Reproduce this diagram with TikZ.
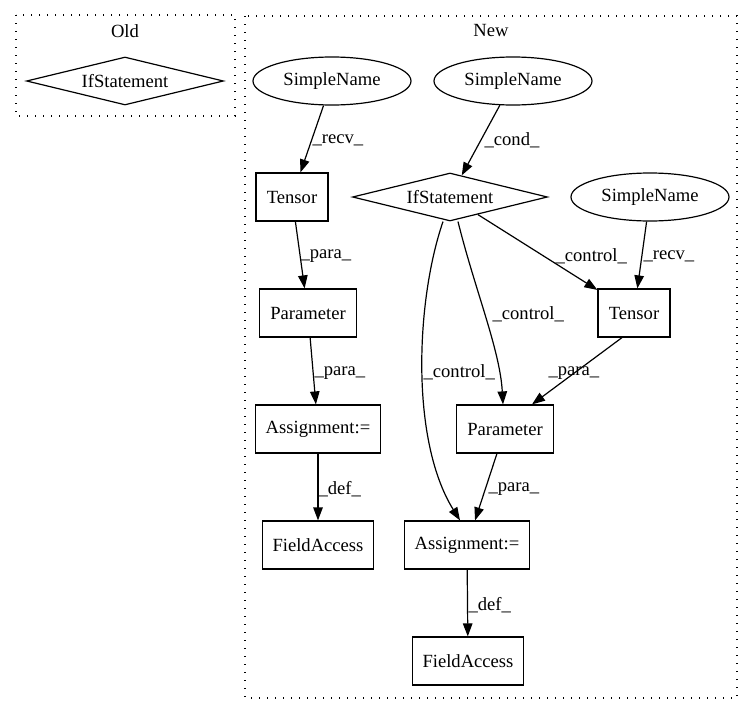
\documentclass[tikz,border=0pt]{standalone}
\usepackage{fontspec}
\setmainfont{Liberation Serif}
\usetikzlibrary{shapes.geometric,arrows.meta}
\begin{document}
\begin{tikzpicture}[x=1pt,y=-1pt,
  font=\fontsize{18.6}{22}\selectfont,
  box/.style={draw,rectangle,minimum height=48pt,inner sep=0pt,line width=1.2pt},
  ell/.style={draw,ellipse,minimum width=158pt,minimum height=48pt,inner sep=0pt,line width=1.2pt},
  dia/.style={draw,diamond,aspect=4,inner sep=0pt,line width=1.2pt},
  cl/.style={draw,line width=1.3pt,dash pattern=on 1.4pt off 6.6pt},
  edge/.style={-{Triangle[length=13pt,width=9.5pt]},line width=1.2pt},
  lbl/.style={inner sep=0pt,anchor=west}
]
\useasboundingbox (0,0) rectangle (753,712);
% clusters
\draw[cl] (16,15) rectangle (235,116);
\node (oldlbl) at (125,31) {Old};
\draw[cl] (245,16) rectangle (737,698);
\node (newlbl) at (491,31) {New};
% old
\node[dia,minimum width=197pt,minimum height=48pt] (oif) at (125,81) {IfStatement};
% new nodes
\node[ell] (sn1) at (332,81) {SimpleName};
\node[ell] (sn2) at (513,81) {SimpleName};
\node[ell] (sn3) at (650,197) {SimpleName};
\node[dia,minimum width=195pt,minimum height=48pt] (if) at (450,197) {IfStatement};
\node[box,minimum width=72pt] (t1) at (292,197) {Tensor};
\node[box,minimum width=72pt] (t2) at (634,313) {Tensor};
\node[box,minimum width=97pt] (p1) at (308,313) {Parameter};
\node[box,minimum width=97pt] (p2) at (505,429) {Parameter};
\node[box,minimum width=125pt] (a1) at (318,429) {Assignment:=};
\node[box,minimum width=125pt] (a2) at (467,545) {Assignment:=};
\node[box,minimum width=111pt] (f1) at (318,545) {FieldAccess};
\node[box,minimum width=111pt] (f2) at (468,661) {FieldAccess};
% edges
\draw[edge] (sn1) -- (t1) node[lbl] at (312,140) {\_recv\_};
\draw[edge] (sn2) -- (if) node[lbl] at (484,140) {\_cond\_};
\draw[edge] (sn3) -- (t2) node[lbl] at (643,256) {\_recv\_};
\draw[edge] (t1) -- (p1) node[lbl] at (300,256) {\_para\_};
\draw[edge] (p1) -- (a1) node[lbl] at (314,373) {\_para\_};
\draw[edge] (a1) -- (f1) node[lbl] at (318,489) {\_def\_};
\draw[edge] (if) -- (t2) node[lbl] at (555,256) {\_control\_};
\draw[edge] ([xshift=8pt]if.south) .. controls (475,290) and (500,350) .. ([xshift=-2pt]p2.north) node[lbl] at (492,314) {\_control\_};
\draw[edge] ([xshift=-7pt]if.south) .. controls (416,300) and (410,440) .. ([xshift=-7pt]a2.north) node[lbl] at (423,372) {\_control\_};
\draw[edge] ([xshift=-12pt]t2.south) -- ([xshift=27pt]p2.north) node[lbl] at (548,373) {\_para\_};
\draw[edge] (p2) -- (a2) node[lbl] at (488,489) {\_para\_};
\draw[edge] (a2) -- (f2) node[lbl] at (468,605) {\_def\_};
\end{tikzpicture}
\end{document}
